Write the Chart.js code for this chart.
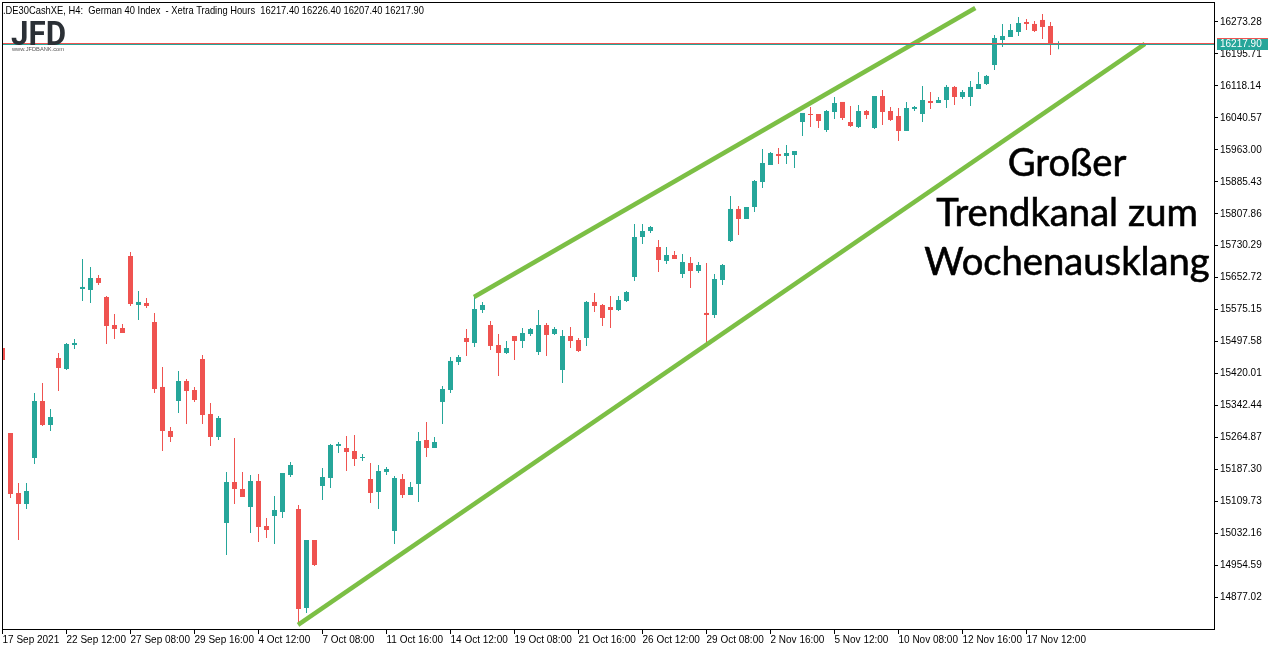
<!DOCTYPE html>
<html><head><meta charset="utf-8">
<script src="https://cdn.jsdelivr.net/npm/chart.js@4.4.1/dist/chart.umd.min.js"></script>
<style>html,body{margin:0;padding:0;background:#fff;overflow:hidden}#c{display:block}</style>
</head><body>
<canvas id="c" width="1272" height="650"></canvas>
<script>
// ---- data (H4 candles, 17 Sep 2021 16:00 .. 19 Nov 2021 08:00) ----
const openP = [
15482.1,15275.8,15130.2,15103.5,15215.1,15353.5,15295.2,15457.8,15431.1,15489.4,
15625.3,15622.9,15652.0,15605.9,15537.9,15530.6,15705.4,15586.5,15591.3,15545.2,
15387.5,15280.7,15353.5,15402.0,15380.2,15455.4,15321.9,15266.1,15057.4,15156.9,
15139.9,15096.2,15159.3,15050.1,15074.4,15084.1,15173.9,15091.4,14851.1,15016.1,
15147.2,15166.6,15244.3,15239.4,15232.1,15215.1,15164.2,15132.6,15181.2,15038.0,
15164.2,15125.3,15152.0,15258.8,15239.4,15351.1,15380.2,15448.1,15506.4,15494.2,
15574.3,15537.9,15489.4,15470.0,15511.2,15499.1,15516.1,15472.4,15537.9,15516.1,
15428.7,15511.2,15501.5,15506.4,15593.8,15586.5,15581.6,15574.3,15596.2,15654.4,
15751.5,15766.1,15727.2,15693.3,15707.8,15661.7,15688.4,15669.0,15567.1,15562.2,
15647.1,15741.8,15819.5,15795.2,15824.3,15885.0,15926.2,15952.9,15948.1,15950.5,
16030.6,16050.0,16050.0,16011.2,16054.9,16079.2,16030.6,16018.5,16057.3,16016.0,
16093.7,16057.3,16045.2,16008.8,16062.2,16050.0,16081.6,16076.7,16084.0,16115.6,
16091.3,16091.3,16110.7,16122.8,16168.9,16229.6,16236.9,16249.0,16273.3,16268.5,
16278.2,16263.6,16217.4];
const highP = [
15487.0,15275.8,15154.5,15154.5,15372.9,15397.2,15334.1,15470.0,15494.2,15504.0,
15698.1,15678.7,15659.3,15608.3,15564.6,15540.4,15715.1,15620.4,15603.5,15567.1,
15436.0,15290.4,15426.3,15406.9,15387.5,15465.1,15348.6,15317.1,15181.2,15263.7,
15181.2,15173.9,15176.3,15069.5,15122.9,15178.7,15205.4,15101.1,15016.1,15016.1,
15190.9,15249.1,15254.0,15268.5,15271.0,15224.8,15203.0,15198.1,15193.3,15171.4,
15176.3,15156.9,15278.2,15302.5,15266.1,15389.9,15460.3,15465.1,15528.2,15605.9,
15593.8,15547.6,15516.1,15499.1,15511.2,15530.6,15530.6,15574.3,15542.8,15533.1,
15525.8,15533.1,15506.4,15596.2,15615.6,15588.9,15608.3,15608.3,15620.4,15783.1,
15783.1,15778.2,15744.2,15727.2,15717.5,15710.2,15703.0,15690.8,15688.4,15661.7,
15686.0,15851.0,15826.7,15824.3,15889.8,15965.1,15957.8,15967.5,15974.8,15960.2,
16052.5,16067.0,16050.0,16059.7,16091.3,16079.2,16069.4,16071.9,16059.7,16093.7,
16108.3,16067.0,16064.6,16079.2,16069.4,16118.0,16103.4,16091.3,16120.4,16118.0,
16108.3,16130.1,16152.0,16144.7,16241.8,16268.5,16268.5,16285.4,16280.6,16275.7,
16292.7,16273.3,16226.4];
const lowP = [
15450.6,15118.1,15016.1,15091.4,15200.6,15292.8,15280.7,15377.7,15428.7,15479.7,
15596.2,15591.3,15635.0,15491.8,15504.0,15518.5,15584.0,15550.1,15579.2,15372.9,
15232.1,15254.0,15324.4,15297.7,15351.1,15297.7,15244.3,15258.8,14979.7,15103.5,
15120.5,15033.1,15011.3,15021.0,15006.4,15069.5,15169.0,14812.3,14839.0,14953.0,
15113.2,15142.3,15227.3,15183.6,15195.7,15207.9,15105.9,15091.4,15173.9,15006.4,
15118.1,15125.3,15108.4,15217.6,15239.4,15297.7,15372.9,15440.8,15462.7,15484.5,
15567.1,15477.3,15414.2,15467.5,15453.0,15482.1,15511.2,15465.1,15462.7,15513.7,
15397.2,15482.1,15472.4,15487.0,15569.5,15535.5,15530.6,15571.9,15593.8,15644.7,
15734.5,15761.2,15666.6,15686.0,15698.1,15652.0,15627.7,15664.1,15491.8,15554.9,
15635.0,15739.4,15756.4,15795.2,15812.2,15870.4,15926.2,15928.7,15928.7,15919.0,
15996.6,16018.5,16016.0,16006.3,16037.9,16035.5,16018.5,16016.0,16037.9,16013.6,
16023.3,16033.0,15984.5,16008.8,16057.3,16030.6,16062.2,16076.7,16064.6,16071.9,
16086.4,16069.4,16110.7,16120.4,16156.8,16212.6,16236.9,16239.3,16253.9,16249.0,
16232.1,16193.2,16207.4];
const closeP = [
15453.0,15127.8,15103.5,15135.0,15353.5,15295.2,15314.6,15433.6,15491.8,15494.2,
15630.2,15652.0,15639.9,15535.5,15528.2,15518.5,15588.9,15593.8,15584.0,15382.6,
15280.7,15266.1,15402.0,15377.7,15355.9,15319.5,15266.1,15312.2,15156.9,15139.9,
15120.5,15159.3,15047.7,15040.4,15088.9,15178.7,15198.1,14848.7,15016.1,14955.4,
15169.0,15246.7,15249.1,15229.7,15212.7,15217.6,15130.2,15183.6,15188.4,15166.6,
15125.3,15144.8,15256.4,15239.4,15254.0,15382.6,15450.6,15460.3,15496.7,15576.8,
15586.5,15487.0,15470.0,15482.1,15499.1,15518.5,15528.2,15537.9,15513.7,15528.2,
15511.2,15499.1,15474.8,15593.8,15584.0,15554.9,15574.3,15598.6,15618.0,15751.5,
15766.1,15775.8,15695.7,15707.8,15698.1,15690.8,15669.0,15683.5,15562.2,15649.6,
15683.5,15819.5,15795.2,15824.3,15887.4,15931.1,15955.4,15948.1,15955.4,15960.2,
16052.5,16047.6,16033.0,16057.3,16076.7,16040.3,16020.9,16057.3,16047.6,16093.7,
16054.9,16035.5,16008.8,16064.6,16067.0,16084.0,16076.7,16084.0,16115.6,16091.3,
16103.4,16115.6,16122.8,16142.3,16234.5,16239.3,16253.9,16270.9,16268.5,16251.5,
16261.2,16217.5,16217.9];

const xTickIndex = [0,8,16,24,32,40,48,56,64,72,80,88,96,104,112,120,128];
const xTickLabels = ['17 Sep 2021','22 Sep 12:00','27 Sep 08:00','29 Sep 16:00','4 Oct 12:00',
  '7 Oct 08:00','11 Oct 16:00','14 Oct 12:00','19 Oct 08:00','21 Oct 16:00','26 Oct 12:00',
  '29 Oct 08:00','2 Nov 16:00','5 Nov 12:00','10 Nov 08:00','12 Nov 16:00','17 Nov 12:00'];
const yTickValues = [14877.02,14954.59,15032.16,15109.73,15187.30,15264.87,15342.44,15420.01,
  15497.58,15575.15,15652.72,15730.29,15807.86,15885.43,15963.00,16040.57,16118.14,16195.71,16273.28];

const upperTrend = [{x:58.94,y:15605.9},{x:121.6,y:16307.3}];
const lowerTrend = [{x:36.94,y:14810.0},{x:142.8,y:16220.0}];
const bidPrice = 16217.90;
const askPrice = 16221.10;
const headerText = '.DE30CashXE, H4:  German 40 Index  - Xetra Trading Hours  16217.40 16226.40 16207.40 16217.90';
const noteLines = ['Großer','Trendkanal zum','Wochenausklang'];

// ---- styles ----
const UP = '#26a69a', DN = '#ef5350', TREND = '#7cbf45';
const AX_FONT = {family:'"Liberation Sans", Arial, sans-serif', size:10};

const idx = openP.map((_, i) => i);
const candleColors = idx.map(i => closeP[i] >= openP[i] ? UP : DN);
const wickData = idx.map(i => ({x:i, y:[lowP[i], highP[i]]}));
const bodyData = idx.map(i => ({x:i, y:[openP[i], closeP[i]]}));

const decor = {
  id:'decor',
  beforeDraw(chart){
    const c = chart.ctx; c.save(); c.fillStyle='#fff'; c.fillRect(0,0,chart.width,chart.height); c.restore();
  },
  afterDatasetsDraw(chart){
    const c = chart.ctx, a = chart.chartArea, ys = chart.scales.y;
    c.save();
    const ya = Math.floor(ys.getPixelForValue(askPrice)) + 0.5;
    const yb = Math.floor(ys.getPixelForValue(bidPrice)) + 0.5;
    c.lineWidth = 1;
    c.strokeStyle = DN; c.beginPath(); c.moveTo(a.left, ya); c.lineTo(a.right, ya); c.stroke();
    c.strokeStyle = UP; c.beginPath(); c.moveTo(a.left, yb); c.lineTo(a.right, yb); c.stroke();
    c.restore();
  },
  afterDraw(chart){
    const c = chart.ctx, a = chart.chartArea, ys = chart.scales.y;
    c.save();
    // frame
    c.strokeStyle = '#000'; c.lineWidth = 1;
    c.strokeRect(Math.round(a.left)+0.5, Math.round(a.top)+0.5, Math.round(a.right-a.left), Math.round(a.bottom-a.top));
    // header
    c.fillStyle = '#000'; c.font = '11px "Liberation Sans", Arial, sans-serif';
    c.textAlign = 'left'; c.textBaseline = 'alphabetic';
    c.fillText(headerText, 3, 14, 421);
    // logo
    c.fillStyle = '#2b3036'; c.font = 'bold 33px Roboto, "Liberation Sans", sans-serif';
    c.fillText('JFD', 11, 45, 55);
    c.fillStyle = '#555'; c.font = '6px "Liberation Sans", sans-serif';
    c.fillText('www.JFDBANK.com', 12, 51, 52);
    // price label
    const yb = Math.floor(ys.getPixelForValue(bidPrice));
    const bx = a.right + 3;
    c.fillStyle = DN; c.fillRect(bx, yb - 6, 51, 1);
    c.fillStyle = UP; c.fillRect(bx, yb - 5, 51, 11);
    c.fillStyle = '#fff'; c.font = '10px "Liberation Sans", Arial, sans-serif';
    c.textBaseline = 'middle';
    c.fillText(bidPrice.toFixed(2), a.right + 6, yb + 0.5);
    // annotation
    c.fillStyle = '#000'; c.textAlign = 'center'; c.textBaseline = 'alphabetic';
    c.font = '100px Lato, "Open Sans", sans-serif';
    const w = c.measureText(noteLines[1]).width;
    const fs = 100 * 262 / w;
    c.font = fs.toFixed(1) + 'px Lato, "Open Sans", sans-serif';
    c.lineWidth = 0.6; c.strokeStyle = '#000';
    noteLines.forEach((t, k) => { c.fillText(t, 1067, 176 + k * 49.5); c.strokeText(t, 1067, 176 + k * 49.5); });
    c.restore();
  }
};

new Chart(document.getElementById('c'), {
  type:'bar',
  data:{datasets:[
    {type:'line', data:upperTrend, borderColor:TREND, borderWidth:4.5, pointRadius:0, fill:false, order:0, borderCapStyle:'butt'},
    {type:'line', data:lowerTrend, borderColor:TREND, borderWidth:4.5, pointRadius:0, fill:false, order:0, borderCapStyle:'butt'},
    {data:bodyData, backgroundColor:candleColors, barThickness:5, borderWidth:0, grouped:false, inflateAmount:0, order:1},
    {data:wickData, backgroundColor:candleColors, barThickness:1, borderWidth:0, grouped:false, inflateAmount:0, order:2}
  ]},
  options:{
    responsive:false, animation:false, events:[],
    layout:{padding:{left:2, top:2, right:0, bottom:0}},
    plugins:{legend:{display:false}, tooltip:{enabled:false}},
    scales:{
      x:{type:'linear', position:'bottom', min:-0.0625, max:151.4375, offset:false, bounds:'data',
        grid:{display:true, drawOnChartArea:false, drawTicks:true, tickLength:5, color:'#000', lineWidth:1, offset:false},
        border:{display:false},
        afterBuildTicks:s => { s.ticks = xTickIndex.map(v => ({value:v})); },
        afterFit:s => { s.height = 21; s.paddingLeft = 0; s.paddingRight = 0; s.paddingTop = 0; s.paddingBottom = 0; },
        ticks:{autoSkip:false, maxRotation:0, minRotation:0, align:'start', padding:0, color:'#000', font:AX_FONT,
          callback:(v, i) => xTickLabels[i]}
      },
      y:{type:'linear', position:'right', min:14800.1, max:16321.8, bounds:'data',
        grid:{display:true, drawOnChartArea:false, drawTicks:true, tickLength:4, color:'#000', lineWidth:1},
        border:{display:false},
        afterBuildTicks:s => { s.ticks = yTickValues.map(v => ({value:v})); },
        afterFit:s => { s.width = 58; s.paddingLeft = 0; s.paddingRight = 0; s.paddingTop = 0; s.paddingBottom = 0; },
        ticks:{autoSkip:false, padding:2, color:'#000', font:AX_FONT, callback:v => Number(v).toFixed(2)}
      }
    }
  },
  plugins:[decor]
});
</script>
</body></html>
